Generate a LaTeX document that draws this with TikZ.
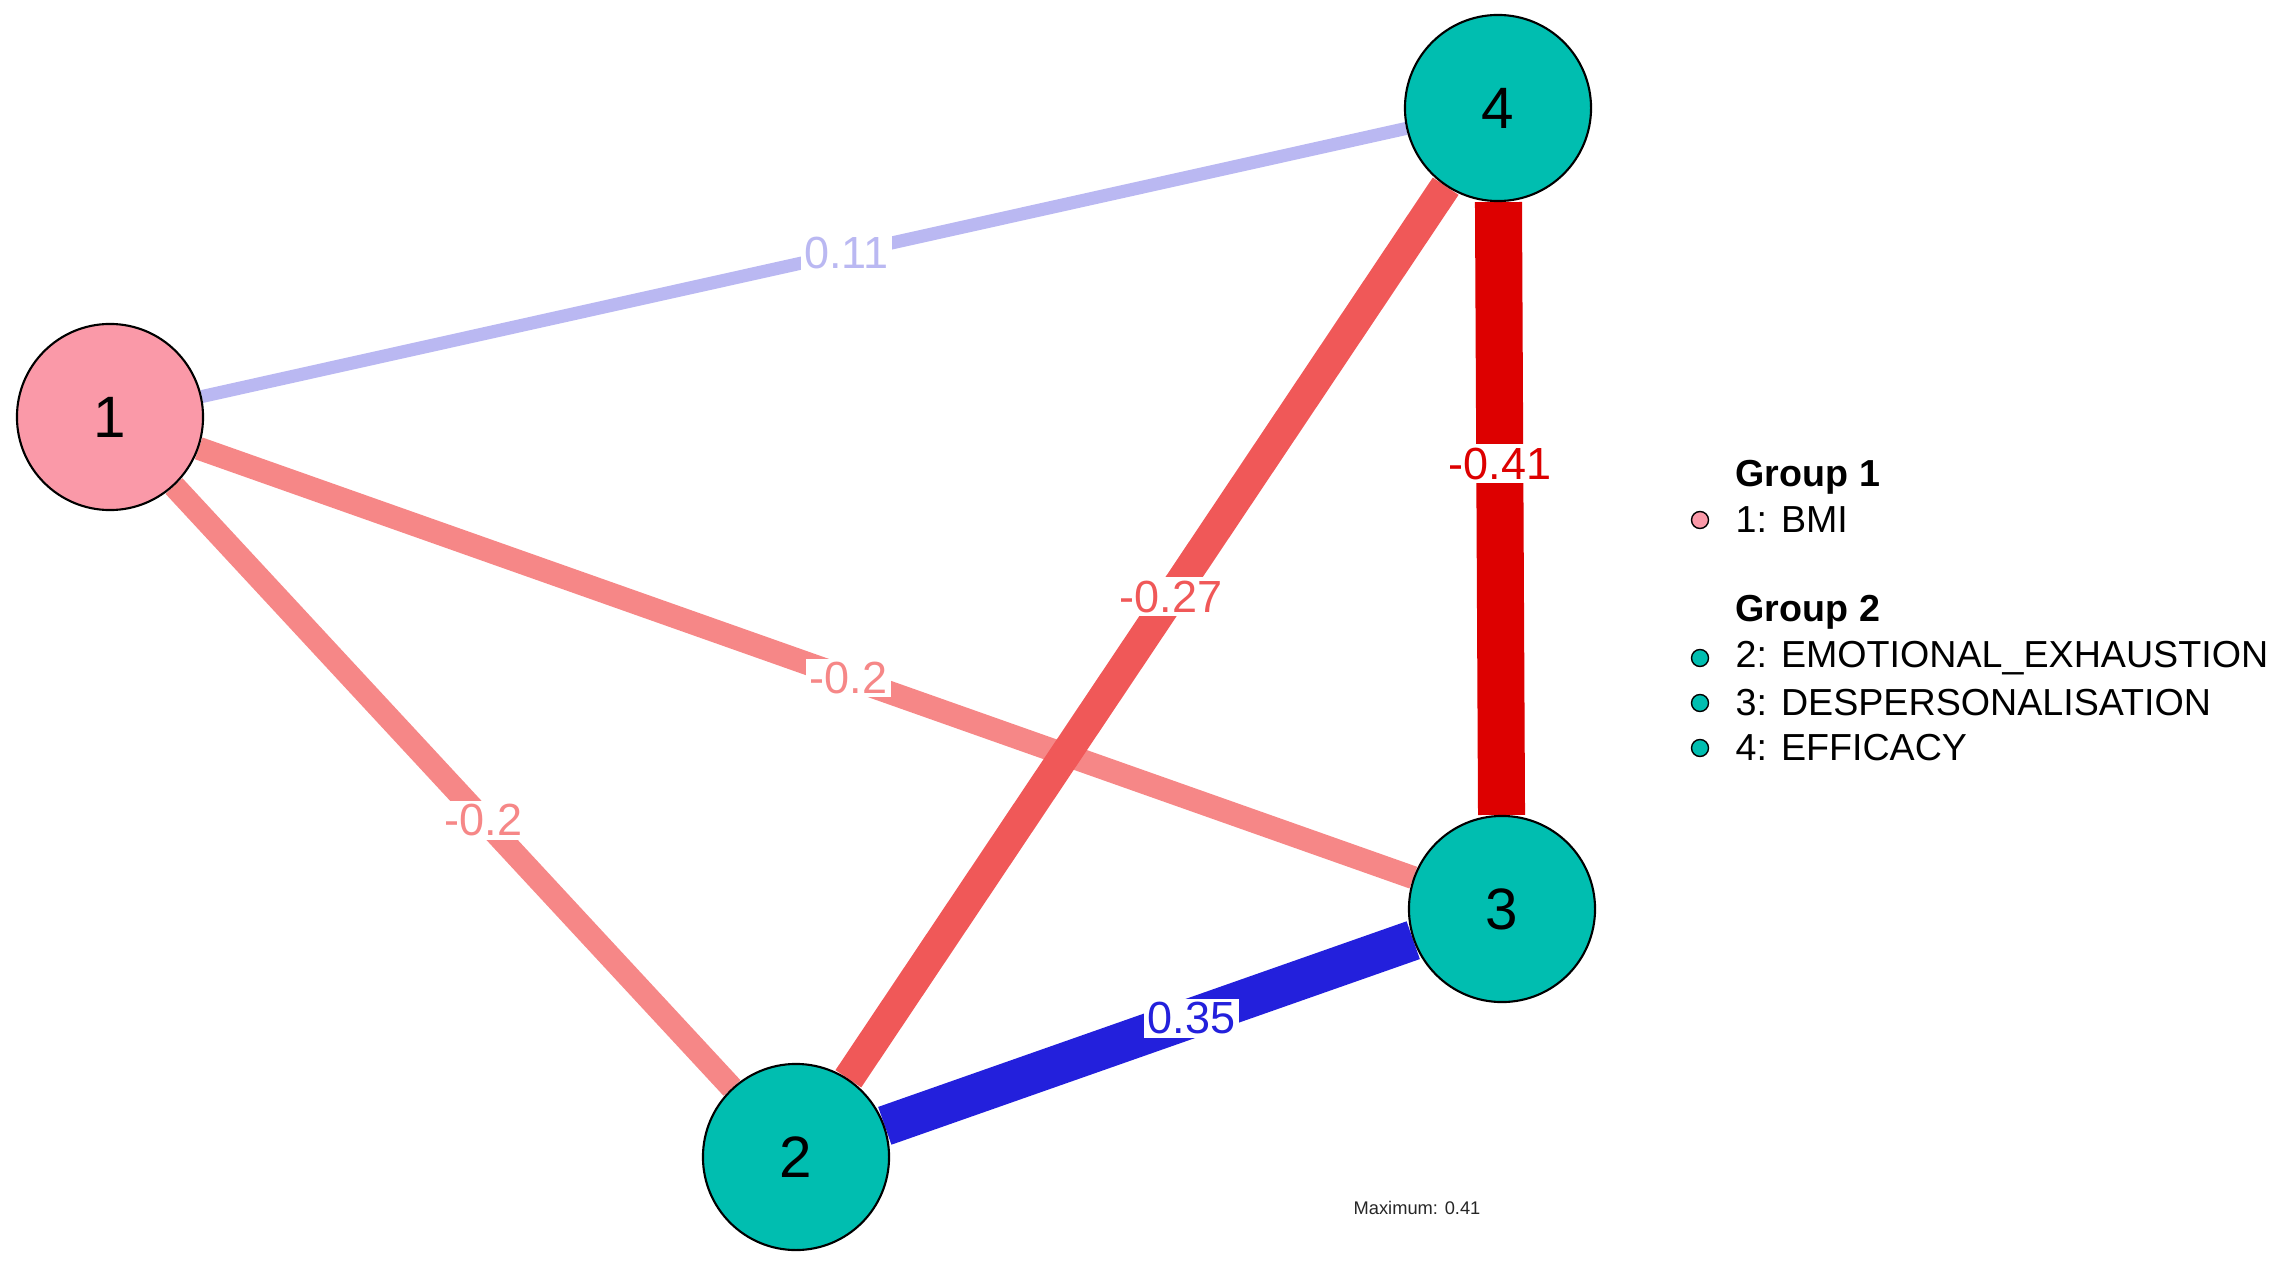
\documentclass[tikz,border=0pt]{standalone}
\usepackage{fontspec}
\setmainfont{Liberation Sans}
\usetikzlibrary{positioning,backgrounds}
\definecolor{grpone}{RGB}{250,153,168}
\definecolor{grptwo}{RGB}{0,190,176}
\definecolor{negstrong}{RGB}{221,0,0}
\definecolor{negmid}{RGB}{240,88,88}
\definecolor{negweak}{RGB}{246,135,135}
\definecolor{posstrong}{RGB}{35,32,220}
\definecolor{posweak}{RGB}{186,184,242}

\begin{document}
\begin{tikzpicture}[x=0.01cm,y=-0.01cm,
  var/.style={circle,draw=black,line width=0.6pt,minimum size=1.86cm,inner sep=0pt,font=\fontsize{16.6}{18}\selectfont},
  wlabel/.style={fill=white,inner sep=1pt,font=\fontsize{12.8}{14}\selectfont},
  keydot/.style={circle,draw=black,line width=0.4pt,minimum size=0.17cm,inner sep=0pt},
  keytext/.style={anchor=west,inner sep=0pt,font=\fontsize{10.7}{12}\selectfont}]
  \useasboundingbox (0,0) rectangle (2275,1282);
  % Variables
  \node[var,fill=grpone] (n1) at (110,417) {1};
  \node[var,fill=grptwo] (n2) at (796,1157) {2};
  \node[var,fill=grptwo] (n3) at (1502,909) {3};
  \node[var,fill=grptwo] (n4) at (1498,108) {4};
  % Edges, weakest first
  \begin{scope}[on background layer]
    \draw[posweak, line width=0.13cm] (n1) -- node[wlabel,pos=0.535]{0.11} (n4);
    \draw[negweak, line width=0.23cm] (n1) -- node[wlabel,pos=0.535]{-0.2} (n3);
    \draw[negweak, line width=0.23cm] (n1) -- node[wlabel,pos=0.555]{-0.2} (n2);
    \draw[negmid, line width=0.31cm] (n2) -- node[wlabel,pos=0.54]{-0.27} (n4);
    \draw[posstrong, line width=0.40cm] (n2) -- node[wlabel,pos=0.58]{0.35} (n3);
    \draw[negstrong, line width=0.47cm] (n3) -- node[wlabel,pos=0.573]{-0.41} (n4);
  \end{scope}
  % Legend
  \node[keytext,font=\bfseries\fontsize{10.7}{12}\selectfont] (grp1) at (1735,477) {Group 1};
  \node[keydot,fill=grpone] (dot1) at (1700,520) {};
  \node[keytext] (key1) at (1735,520) {1: BMI};
  \node[keytext,font=\bfseries\fontsize{10.7}{12}\selectfont] (grp2) at (1735,612) {Group 2};
  \foreach \y/\txt [count=\i from 2] in {658/EMOTIONAL\_EXHAUSTION, 703/DESPERSONALISATION, 748/EFFICACY} {
    \node[keydot,fill=grptwo] (dot\i) at (1700,\y) {};
    \node[keytext] (key\i) at (1735,\y) {\i: \txt};
  }
  \node[font=\fontsize{5.2}{6}\selectfont,text=black!85] (maxw) at (1417,1208) {Maximum: 0.41};
\end{tikzpicture}
\end{document}
